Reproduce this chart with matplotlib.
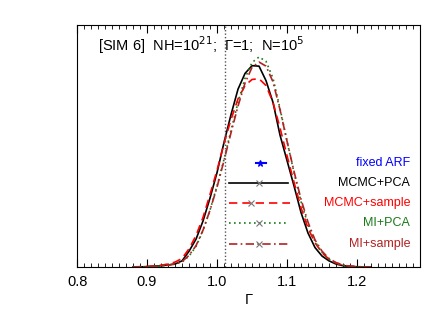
import numpy as np
import matplotlib
matplotlib.use("Agg")
import matplotlib.pyplot as plt
from matplotlib.ticker import MultipleLocator

# Posterior of photon index for SIM 6, five calibration methods

gamma = np.round(np.arange(0.88, 1.225, 0.01), 2)

mcmc_pca = [0.0, 0.0, 0.001, 0.003, 0.005, 0.008, 0.012, 0.025, 0.065, 0.115,
            0.19, 0.285, 0.39, 0.515, 0.63, 0.735, 0.80, 0.832, 0.83, 0.77,
            0.68, 0.545, 0.44, 0.335, 0.225, 0.14, 0.08, 0.045, 0.025, 0.012,
            0.005, 0.002, 0.0, 0.0, 0.0]
mcmc_sample = [0.0, 0.001, 0.002, 0.004, 0.007, 0.012, 0.02, 0.035, 0.075, 0.13,
               0.205, 0.30, 0.40, 0.51, 0.61, 0.695, 0.75, 0.775, 0.778, 0.75,
               0.68, 0.575, 0.46, 0.35, 0.245, 0.16, 0.10, 0.058, 0.032, 0.016,
               0.007, 0.003, 0.001, 0.0, 0.0]
mi_pca = [0.0, 0.0, 0.001, 0.002, 0.004, 0.007, 0.012, 0.02, 0.045, 0.085,
          0.15, 0.235, 0.335, 0.445, 0.565, 0.68, 0.78, 0.845, 0.868, 0.85,
          0.78, 0.655, 0.52, 0.39, 0.27, 0.175, 0.105, 0.06, 0.032, 0.016,
          0.007, 0.003, 0.001, 0.0, 0.0]
mi_sample = [0.0, 0.0, 0.001, 0.002, 0.004, 0.007, 0.013, 0.022, 0.048, 0.088,
             0.152, 0.235, 0.33, 0.44, 0.555, 0.665, 0.76, 0.825, 0.847, 0.83,
             0.765, 0.65, 0.52, 0.395, 0.28, 0.185, 0.112, 0.065, 0.035, 0.018,
             0.008, 0.003, 0.001, 0.0, 0.0]

# interval summaries: (low, centre, high)
labels = ["fixed ARF", "MCMC+PCA", "MCMC+sample", "MI+PCA", "MI+sample"]
int_lo = [1.056, 1.017, 1.017, 1.017, 1.017]
int_mid = [1.061, 1.060, 1.049, 1.060, 1.060]
int_hi = [1.070, 1.101, 1.104, 1.101, 1.104]
true_gamma = 1.0114

colors = ["#0000ff", "#000000", "#ff0000", "#1a7a1a", "#b22222"]
styles = ["-", "-", (0, (5, 3)), (0, (1, 2)), (0, (5, 2, 1, 2))]
row_y = [0.43, 0.347, 0.264, 0.182, 0.095]

plt.rcParams["font.family"] = ["Liberation Sans", "DejaVu Sans"]
fig = plt.figure(figsize=(4.43, 3.17), dpi=100)
ax = fig.add_axes([0.174, 0.158, 0.774, 0.763])

curves = [mcmc_pca, mcmc_sample, mi_pca, mi_sample]
for vals, c, ls in zip(curves, colors[1:], styles[1:]):
    ax.plot(gamma, vals, color=c, linestyle=ls, linewidth=1.2)

ax.axvline(true_gamma, color="#555555", linestyle=(0, (1, 1.5)), linewidth=1.0)

for i in range(len(labels)):
    ax.plot([int_lo[i], int_hi[i]], [row_y[i]] * 2, color=colors[i],
            linestyle=styles[i], linewidth=1.2 if i else 1.5)
    mk = "*" if i == 0 else "x"
    ax.plot(int_mid[i], row_y[i], marker=mk, color=colors[i] if i == 0 else "#777777",
            markersize=5, markeredgewidth=0.8, linestyle="none")
    ax.text(1.276, row_y[i], labels[i], color=colors[i], fontsize=9,
            ha="right", va="center")

ax.text(0.83, 0.915, "[SIM 6]  NH=10$^{21}$;  \u0393=1;  N=10$^{5}$", fontsize=10.5,
        va="center")

ax.set_xlim(0.8, 1.29)
ax.set_ylim(0, 1.0)
ax.xaxis.set_major_locator(MultipleLocator(0.1))
ax.xaxis.set_minor_locator(MultipleLocator(0.01))
ax.tick_params(axis="x", which="both", direction="in", top=True, labelsize=10.5, pad=6)
ax.tick_params(axis="x", which="major", length=6)
ax.tick_params(axis="x", which="minor", length=3)
ax.set_yticks([])
ax.set_xticks([0.8, 0.9, 1.0, 1.1, 1.2])
ax.set_xticklabels(["0.8", "0.9", "1.0", "1.1", "1.2"])
ax.set_xlabel("\u0393", fontsize=10.5, labelpad=3)
for s in ax.spines.values():
    s.set_linewidth(0.8)

fig.savefig("out.png", dpi=100)
